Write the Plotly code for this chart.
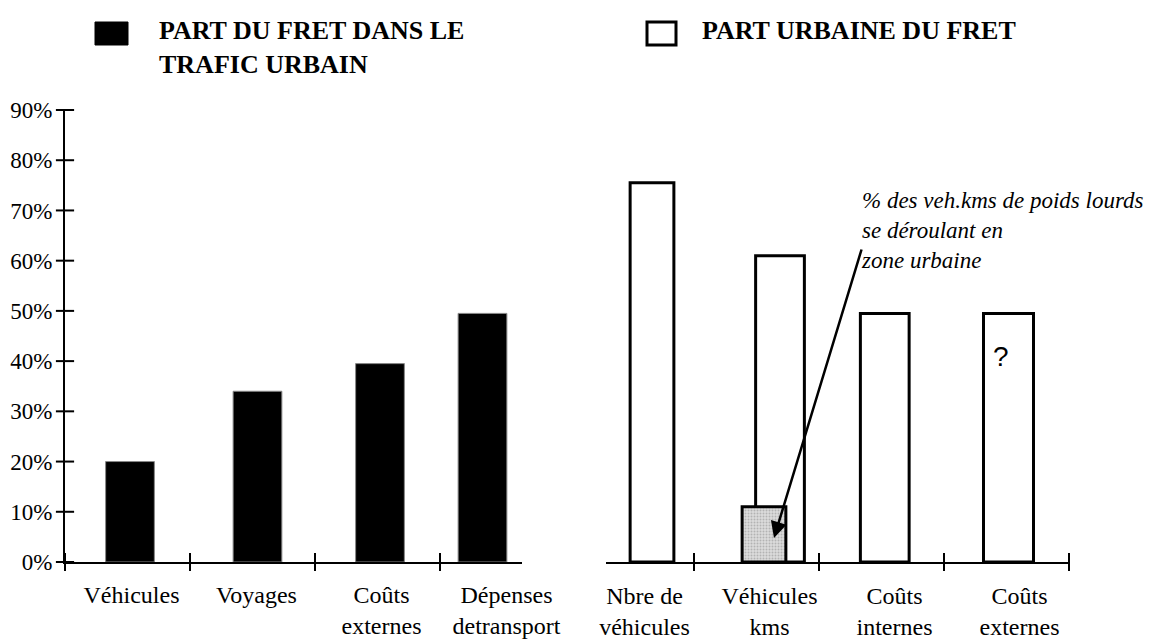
import plotly.graph_objects as go

# ---------------- data ----------------
LEFT_CATS = ["Véhicules", "Voyages", "Coûts<br>externes", "Dépenses<br>detransport"]
LEFT_VALS = [20, 34, 39.5, 49.5]          # part du fret dans le trafic urbain (%)

RIGHT_CATS = ["Nbre de<br>véhicules", "Véhicules<br>kms", "Coûts<br>internes", "Coûts<br>externes"]
RIGHT_VALS = [75.5, 61, 49.5, 49.5]       # part urbaine du fret (%)

HGV_CAT_INDEX = 1                         # bar "Véhicules kms"
HGV_VAL = [11]                            # % des veh.kms de poids lourds en zone urbaine

Y_TICKS = [0, 10, 20, 30, 40, 50, 60, 70, 80, 90]
Y_TICKTEXT = [f"{v}%" for v in Y_TICKS]

LEGEND_LEFT = "PART DU FRET DANS LE<br>TRAFIC URBAIN"
LEGEND_RIGHT = "PART URBAINE DU FRET"
NOTE = "% des veh.kms de poids lourds<br>se déroulant en<br>zone urbaine"

# ---------------- styling ----------------
PAGE_OFF = 8                      # default page margin around the figure
W, H = 1157 - PAGE_OFF, 641 - PAGE_OFF
SERIF = '"Liberation Serif", "Times New Roman", Times, serif'
SANS = '"Liberation Sans", Arial, sans-serif'


def px(xp):
    return (xp - PAGE_OFF) / W


def py(yp):
    return 1 - (yp - PAGE_OFF) / H


L_POS = list(range(len(LEFT_CATS)))
R_POS = list(range(len(RIGHT_CATS)))
L_RANGE = [-0.5, 3.156]
R_RANGE = [-0.204, 3.5]

L_SHIFT = [0.02, 0.04, 0.02, -0.16]
L_W = 0.39
R_W = [0.35, 0.39, 0.39, 0.40]
R_SHIFT = [0.164, 0.188, 0.026, 0.016]
G_W = 0.35
G_SHIFT = 0.06

fig = go.Figure()

fig.add_trace(go.Bar(
    x=L_POS, y=LEFT_VALS, xaxis="x", yaxis="y",
    width=L_W, offset=[-L_W / 2 + s for s in L_SHIFT],
    marker=dict(color="black", line=dict(color="#888888", width=1)),
    showlegend=False, hoverinfo="skip",
))
fig.add_trace(go.Bar(
    x=R_POS, y=RIGHT_VALS, xaxis="x2", yaxis="y2",
    width=R_W, offset=[-w / 2 + s for w, s in zip(R_W, R_SHIFT)],
    marker=dict(color="white", line=dict(color="black", width=3)),
    showlegend=False, hoverinfo="skip",
))
fig.add_trace(go.Bar(
    x=[R_POS[HGV_CAT_INDEX]], y=HGV_VAL, xaxis="x2", yaxis="y2",
    width=G_W, offset=-G_W / 2 + G_SHIFT,
    marker=dict(color="#d8d8d8", line=dict(color="black", width=3),
                pattern=dict(shape=".", bgcolor="#dcdcdc", fgcolor="#8a8a8a",
                             size=3, solidity=0.35)),
    showlegend=False, hoverinfo="skip",
))

# crossing tick marks (category boundaries and y ticks), drawn as line markers
tick_marker_ns = dict(symbol="line-ns", size=13, line=dict(color="black", width=2))
tick_marker_ew = dict(symbol="line-ew", size=13, line=dict(color="black", width=2))
l_bounds = [L_RANGE[0]] + [p + 0.5 for p in L_POS[:-1]]
r_bounds = [p + 0.5 for p in R_POS]
fig.add_trace(go.Scatter(x=l_bounds, y=[0] * len(l_bounds), xaxis="x", yaxis="y",
                         mode="markers", marker=tick_marker_ns, cliponaxis=False,
                         showlegend=False, hoverinfo="skip"))
fig.add_trace(go.Scatter(x=r_bounds, y=[0] * len(r_bounds), xaxis="x2", yaxis="y2",
                         mode="markers", marker=tick_marker_ns, cliponaxis=False,
                         showlegend=False, hoverinfo="skip"))
fig.add_trace(go.Scatter(x=[L_RANGE[0]] * len(Y_TICKS), y=Y_TICKS, xaxis="x", yaxis="y",
                         mode="markers", marker=tick_marker_ew, cliponaxis=False,
                         showlegend=False, hoverinfo="skip"))

ydom = [py(562), py(110)]
xtickfont = dict(family=SERIF, size=24, color="black")
ytickfont = dict(family=SERIF, size=23, color="black")

common_x = dict(showgrid=False, zeroline=False, showline=True, linewidth=2,
                linecolor="black", ticks="", tickfont=xtickfont, type="linear",
                fixedrange=True)

fig.update_layout(
    width=W, height=H,
    margin=dict(l=0, r=0, t=0, b=0, autoexpand=False),
    paper_bgcolor="white", plot_bgcolor="rgba(0,0,0,0)",
    barmode="overlay",
    showlegend=False,
    font=dict(family=SERIF, color="black"),
    xaxis=dict(domain=[px(65), px(522)], range=L_RANGE, anchor="y",
               tickvals=L_POS, ticktext=LEFT_CATS,
               ticklabelshift=4, ticklabelstandoff=10, **common_x),
    yaxis=dict(domain=ydom, range=[0, 90], anchor="x", tickvals=Y_TICKS,
               ticktext=Y_TICKTEXT, ticks="", showline=True, linewidth=2,
               linecolor="black", showgrid=False, zeroline=False,
               tickfont=ytickfont, ticklabelstandoff=6, fixedrange=True),
    xaxis2=dict(domain=[px(606), px(1069)], range=R_RANGE, anchor="y2",
                tickvals=R_POS, ticktext=RIGHT_CATS,
                ticklabelshift=13, ticklabelstandoff=11, **common_x),
    yaxis2=dict(domain=ydom, range=[0, 90], anchor="x2", visible=False,
                fixedrange=True),
)

# legend squares
fig.add_shape(type="rect", xref="paper", yref="paper",
              x0=px(95), x1=px(128), y0=py(45), y1=py(22),
              fillcolor="black", line=dict(color="black", width=1))
fig.add_shape(type="rect", xref="paper", yref="paper",
              x0=px(647), x1=px(676), y0=py(45), y1=py(22),
              fillcolor="white", line=dict(color="black", width=3))

fig.add_annotation(text="<b>" + LEGEND_LEFT + "</b>", xref="paper", yref="paper",
                   x=px(157), y=py(14), xanchor="left", yanchor="top", align="left",
                   showarrow=False, font=dict(family=SERIF, size=26, color="black"))
fig.add_annotation(text="<b>" + LEGEND_RIGHT + "</b>", xref="paper", yref="paper",
                   x=px(700), y=py(14), xanchor="left", yanchor="top", align="left",
                   showarrow=False, font=dict(family=SERIF, size=26, color="black"))

# note and arrow
fig.add_annotation(text="<i>" + NOTE + "</i>", xref="paper", yref="paper",
                   x=px(859), y=py(186), xanchor="left", yanchor="top", align="left",
                   showarrow=False, font=dict(family=SERIF, size=23, color="black"))
fig.add_annotation(text="", xref="paper", yref="paper",
                   x=px(774), y=py(538), ax=88, ay=-290,
                   showarrow=True, arrowhead=2, arrowsize=1.3, arrowwidth=2.5,
                   arrowcolor="black", standoff=0)

# question mark in last bar
fig.add_annotation(text="?", xref="x2", yref="y2", x=R_POS[3], y=41,
                   xshift=-6, showarrow=False,
                   font=dict(family=SANS, size=28, color="black"))

fig.write_html("out.html")
